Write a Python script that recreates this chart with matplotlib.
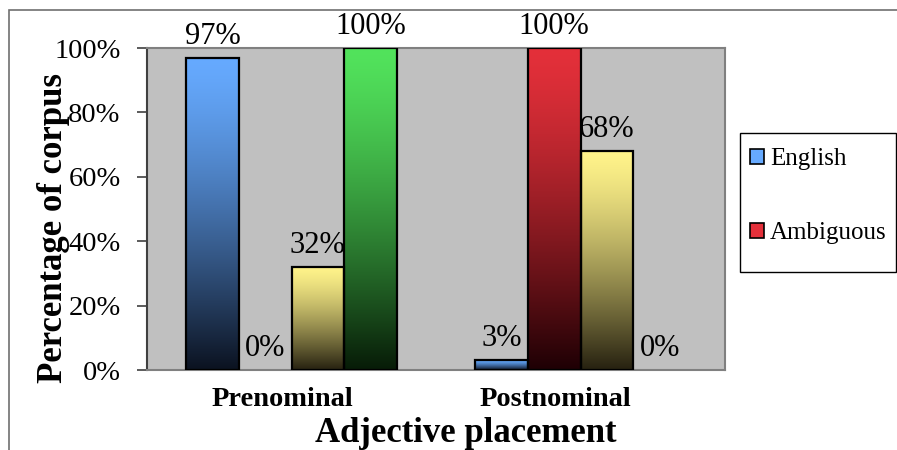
import numpy as np
import matplotlib
matplotlib.use("Agg")
import matplotlib.pyplot as plt
from matplotlib.patches import Rectangle, Patch
from matplotlib.colors import to_rgb
from matplotlib.transforms import ScaledTranslation

categories = ["Prenominal", "Postnominal"]
series_names = ["English", "Ambiguous", "Series 3", "Series 4"]
english = [97, 3]
ambiguous = [0, 100]
series3 = [32, 68]
series4 = [100, 0]
values = [english, ambiguous, series3, series4]

# (top colour, bottom colour) of each vertical gradient
gradients = [
    ("#66aaff", "#0b1220"),
    ("#e4303a", "#1e0004"),
    ("#fff38a", "#262110"),
    ("#52e35c", "#071b07"),
]
y_ticks = [0, 20, 40, 60, 80, 100]

plt.rcParams["font.family"] = ["Liberation Serif", "DejaVu Serif"]

fig = plt.figure(figsize=(8.97, 4.5), dpi=100)
W, H = 897, 450
ax = fig.add_axes([147 / W, 1 - 370 / H, 578 / W, 322 / H])
ax.set_facecolor("#c0c0c0")

x = np.arange(len(categories))
width = 0.1825
offsets = (np.arange(len(values)) - 1.5) * width


def gradient_image(top, bottom, n=256):
    # stays light a bit longer near the top, darkens towards the base
    t = (np.linspace(0, 1, n) ** 1.35)[:, None]
    c0, c1 = np.array(to_rgb(top)), np.array(to_rgb(bottom))
    return (c0 * (1 - t) + c1 * t)[:, None, :]


for vals, off, (top, bottom) in zip(values, offsets, gradients):
    bars = ax.bar(x + off, vals, width, facecolor="none", edgecolor="black",
                  linewidth=1.6, zorder=3)
    for patch, v in zip(bars, vals):
        if v == 0:
            patch.set_linewidth(0)
        else:
            x0 = patch.get_x()
            im = ax.imshow(gradient_image(top, bottom), aspect="auto",
                           extent=[x0, x0 + patch.get_width(), 0, v],
                           origin="upper", zorder=2.9,
                           interpolation="bilinear")
            im.set_clip_path(patch)
        ax.annotate(f"{v}%", (patch.get_x() + patch.get_width() / 2, v),
                    xytext=(0, 5), textcoords="offset points",
                    ha="center", va="bottom", fontsize=22, zorder=2)

ax.set_xlim(-0.5, 1.5)
ax.set_ylim(0, 100)
ax.set_yticks(y_ticks)
ax.set_yticklabels([f"{t}%" for t in y_ticks], fontsize=20.5)
ax.tick_params(axis="y", direction="out", length=7, width=1.2,
               color="#404040", pad=12)
ax.set_xticks(x)
ax.set_xticklabels(categories, fontsize=20.5, fontweight="bold")
ax.tick_params(axis="x", length=0, pad=12)
for lab, dx in zip(ax.get_xticklabels(), [-9, -25]):
    lab.set_transform(lab.get_transform() +
                      ScaledTranslation(dx / 100, 0, fig.dpi_scale_trans))

for side in ["top", "right", "bottom"]:
    ax.spines[side].set_color("#808080")
    ax.spines[side].set_linewidth(1.5)
ax.spines["left"].set_color("#404040")
ax.spines["left"].set_linewidth(1.5)

fig.text(53 / W, 1 - 228 / H, "Percentage of corpus", rotation=90,
         ha="center", va="center", fontsize=25, fontweight="bold")
fig.text(466 / W, 1 - 434 / H, "Adjective placement",
         ha="center", va="center", fontsize=25, fontweight="bold")

# outer chart frame (cut off on the right and bottom)
fig.patches.append(Rectangle((9 / W, -0.1), 1.2, 1.1 - 10 / H,
                             transform=fig.transFigure, fill=False,
                             edgecolor="#707070", linewidth=1.2))
# legend frame
fig.patches.append(Rectangle((740 / W, 1 - 272 / H), 156 / W, 139 / H,
                             transform=fig.transFigure, fill=False,
                             edgecolor="black", linewidth=1.0))
handles = [Patch(facecolor=gradients[i][0], edgecolor="black", linewidth=1.2,
                 label=series_names[i]) for i in range(2)]
fig.legend(handles=handles, loc="upper left",
           bbox_to_anchor=(745 / W, 1 - 143 / H), frameon=False,
           fontsize=18, handlelength=0.55, handleheight=0.55,
           handletextpad=0.25, labelspacing=2.1, borderpad=0.2,
           borderaxespad=0)

fig.savefig("out.png", dpi=100)
